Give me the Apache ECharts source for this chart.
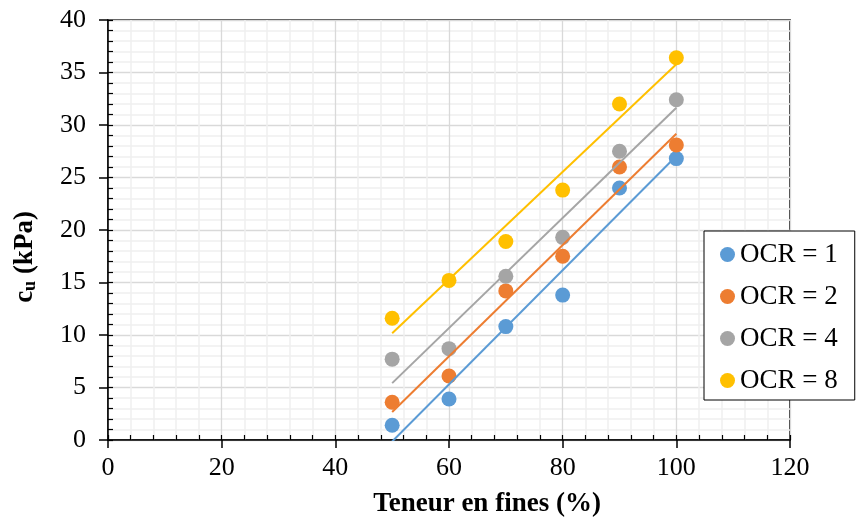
<!DOCTYPE html>
<html>
<head>
<meta charset="utf-8">
<script src="https://cdn.jsdelivr.net/npm/echarts@6/dist/echarts.min.js"></script>
<style>html,body{margin:0;padding:0;background:#fff}#c{width:856px;height:526px}</style>
</head>
<body>
<div id="c"></div>
<script>
var fines = [50, 60, 70, 80, 90, 100];
var ocr1 = [1.4, 3.9, 10.8, 13.8, 24.0, 26.8];
var ocr2 = [3.6, 6.1, 14.2, 17.5, 26.0, 28.1];
var ocr4 = [7.7, 8.7, 15.6, 19.3, 27.5, 32.4];
var ocr8 = [11.6, 15.2, 18.9, 23.8, 32.0, 36.4];
var seriesNames = ['OCR = 1', 'OCR = 2', 'OCR = 4', 'OCR = 8'];
var colors = ['#5B9BD5', '#ED7D31', '#A5A5A5', '#FFC000'];
var xTitle = 'Teneur en fines (%)';

var FONT = '"Liberation Serif", "Times New Roman", serif';

function fit(xs, ys) {
  var n = xs.length, mx = 0, my = 0, sxy = 0, sxx = 0;
  for (var i = 0; i < n; i++) { mx += xs[i]; my += ys[i]; }
  mx /= n; my /= n;
  for (var j = 0; j < n; j++) { sxy += (xs[j] - mx) * (ys[j] - my); sxx += (xs[j] - mx) * (xs[j] - mx); }
  var b = sxy / sxx, a = my - b * mx;
  var x0 = xs[0], x1 = xs[n - 1];
  return [[x0, a + b * x0], [x1, a + b * x1]];
}

var allY = [ocr1, ocr2, ocr4, ocr8];
var series = [];
allY.forEach(function (ys, k) {
  series.push({
    name: seriesNames[k] + ' trend',
    type: 'line',
    data: fit(fines, ys),
    showSymbol: false,
    symbol: 'none',
    lineStyle: { color: colors[k], width: 2 },
    itemStyle: { color: colors[k] },
    clip: true,
    silent: true,
    z: 3
  });
});
allY.forEach(function (ys, k) {
  series.push({
    name: seriesNames[k],
    type: 'scatter',
    data: fines.map(function (x, i) { return [x, ys[i]]; }),
    symbol: 'circle',
    symbolSize: 15,
    itemStyle: { color: colors[k], opacity: 1 },
    z: 2
  });
});

var chart = echarts.init(document.getElementById('c'), null, { renderer: 'canvas' });
chart.setOption({
  animation: false,
  backgroundColor: '#fff',
  grid: { left: 108, right: 66, top: 20, bottom: 86, show: true, borderColor: '#000', borderWidth: 1.5, backgroundColor: 'transparent' },
  xAxis: [{
    type: 'value', min: 0, max: 120, interval: 20, position: 'bottom',
    axisLine: { show: true, onZero: false, lineStyle: { color: '#000', width: 1.5 } },
    axisTick: { show: true, inside: false, length: 8, lineStyle: { color: '#000', width: 1.5 } },
    minorTick: { show: false, splitNumber: 5 },
    splitLine: { show: true, lineStyle: { color: '#D9D9D9', width: 1.3 } },
    minorSplitLine: { show: true, lineStyle: { color: '#F0F0F0', width: 1.5 } },
    axisLabel: { fontFamily: FONT, fontSize: 26, color: '#000', margin: 15 }
  }, {
    type: 'value', min: 0, max: 120, interval: 4, position: 'bottom', offset: 0,
    axisLine: { show: false },
    axisTick: { show: true, inside: true, length: 5, lineStyle: { color: '#000', width: 1.2 } },
    splitLine: { show: false },
    axisLabel: { show: false }
  }],
  yAxis: [{
    type: 'value', min: 0, max: 40, interval: 5, position: 'left',
    axisLine: { show: true, onZero: false, lineStyle: { color: '#000', width: 1.5 } },
    axisTick: { show: true, inside: false, length: 9, lineStyle: { color: '#000', width: 1.5 } },
    minorTick: { show: false, splitNumber: 5 },
    splitLine: { show: true, lineStyle: { color: '#D9D9D9', width: 1.3 } },
    minorSplitLine: { show: true, lineStyle: { color: '#F0F0F0', width: 1.5 } },
    axisLabel: { fontFamily: FONT, fontSize: 26, color: '#000', margin: 22 }
  }, {
    type: 'value', min: 0, max: 40, interval: 1, position: 'left', offset: 0,
    axisLine: { show: false },
    axisTick: { show: true, inside: true, length: 5, lineStyle: { color: '#000', width: 1.2 } },
    splitLine: { show: false },
    axisLabel: { show: false }
  }],
  legend: {
    data: seriesNames,
    orient: 'vertical',
    left: 704, top: 231,
    icon: 'circle',
    itemWidth: 15, itemHeight: 15, itemGap: 15,
    padding: [10, 17, 6, 16],
    borderColor: '#000', borderWidth: 1, backgroundColor: '#fff',
    textStyle: { fontFamily: FONT, fontSize: 27, color: '#000', lineHeight: 27, height: 27 },
    z: 10
  },
  graphic: [{
    type: 'text',
    x: 487, y: 504,
    style: { text: xTitle, fontFamily: FONT, fontSize: 27, fontWeight: 'bold', fill: '#000', align: 'center', verticalAlign: 'middle' }
  }, {
    type: 'text',
    x: 25, y: 257,
    rotation: Math.PI / 2,
    style: {
      text: '{b|c}{s|u}{b| (kPa)}',
      align: 'center', verticalAlign: 'middle',
      rich: {
        b: { fontFamily: FONT, fontSize: 27, fontWeight: 'bold', fill: '#000', lineHeight: 28, verticalAlign: 'middle' },
        s: { fontFamily: FONT, fontSize: 18, fontWeight: 'bold', fill: '#000', lineHeight: 12, verticalAlign: 'bottom' }
      }
    }
  }],
  series: series
});
</script>
</body>
</html>
